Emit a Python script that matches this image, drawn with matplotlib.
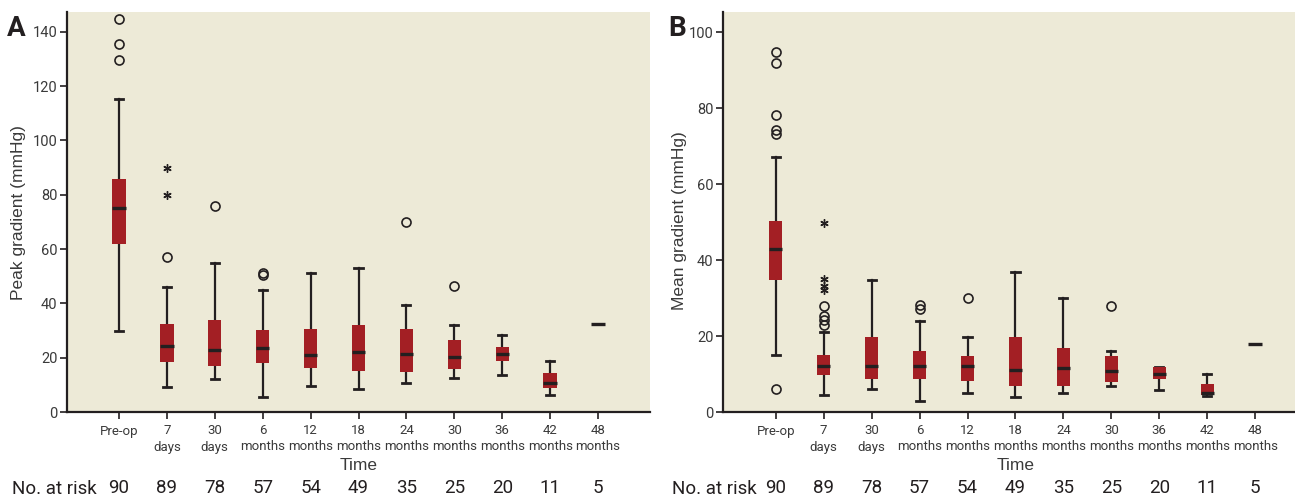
import numpy as np
import matplotlib
matplotlib.use("Agg")
import matplotlib.pyplot as plt

# categories along the time axis
times = ["Pre-op", "7\ndays", "30\ndays", "6\nmonths", "12\nmonths", "18\nmonths",
         "24\nmonths", "30\nmonths", "36\nmonths", "42\nmonths", "48\nmonths"]
at_risk = [90, 89, 78, 57, 54, 49, 35, 25, 20, 11, 5]

# Panel A: peak gradient (mmHg)
peak_whislo = [29.9, 9.3, 12.3, 5.6, 9.7, 8.6, 10.8, 12.6, 13.6, 6.4, 32.5]
peak_q1 = [62.0, 18.5, 16.9, 18.2, 16.3, 15.2, 14.8, 15.7, 18.9, 8.7, 32.5]
peak_med = [75.0, 24.3, 22.7, 23.7, 21.1, 22.0, 21.2, 20.4, 21.2, 10.8, 32.5]
peak_q3 = [85.8, 32.4, 33.9, 30.2, 30.6, 32.0, 30.6, 26.5, 23.8, 14.3, 32.5]
peak_whishi = [115.3, 46.0, 55.0, 45.0, 51.2, 53.2, 39.5, 32.0, 28.4, 18.9, 32.5]
peak_circles = [[144.6, 135.6, 129.6], [57.2], [75.8], [51.3, 50.3], [], [],
                [70.0], [46.4], [], [], []]
peak_stars = [[], [90.0, 79.9], [], [], [], [], [], [], [], [], []]

# Panel B: mean gradient (mmHg)
mean_whislo = [15.0, 4.4, 6.0, 2.8, 4.9, 3.9, 4.9, 6.8, 5.7, 4.1, 17.9]
mean_q1 = [34.8, 9.7, 8.7, 8.7, 8.2, 6.8, 6.8, 7.9, 8.7, 4.5, 17.9]
mean_med = [43.0, 12.0, 12.0, 12.0, 12.0, 11.1, 11.5, 10.8, 10.0, 5.0, 17.9]
mean_q3 = [50.2, 15.1, 19.8, 16.0, 14.7, 19.8, 16.9, 14.8, 11.9, 7.5, 17.9]
mean_whishi = [67.1, 21.1, 34.7, 23.9, 19.7, 36.8, 29.9, 16.0, 11.9, 9.9, 17.9]
mean_circles = [[94.9, 92.0, 78.1, 74.3, 73.2, 6.1], [28.0, 25.4, 24.1, 23.0], [],
                [28.1, 27.0], [30.0], [], [], [28.0], [], [], []]
mean_stars = [[], [49.8, 35.1, 33.3, 32.0], [], [], [], [], [], [], [], [], []]

red = "#A31F24"
bg = "#EDEAD7"
ink = "#231F20"
grey = "#3A3A3A"
narrow = ["Roboto", "DejaVu Sans"]
plain = ["Liberation Sans", "DejaVu Sans"]

fig = plt.figure(figsize=(12.95, 4.99), dpi=100)
axA = fig.add_axes([67 / 1295, 87 / 499, 583 / 1295, 400 / 499])
axB = fig.add_axes([723 / 1295, 87 / 499, 572 / 1295, 400 / 499])


def draw(ax, lo, q1, med, q3, hi, circles, stars, ylim, yticks, xlim,
         ylabel, letter, label_x, label_y, letter_x, risk_x):
    stats = []
    for i in range(len(times)):
        stats.append(dict(whislo=lo[i], q1=q1[i], med=med[i], q3=q3[i],
                          whishi=hi[i], fliers=circles[i]))
    pos = np.arange(len(times))
    ax.bxp(stats, positions=pos, widths=0.28, capwidths=0.17,
           patch_artist=True, showfliers=True,
           boxprops=dict(facecolor=red, edgecolor="none", zorder=3),
           medianprops=dict(color=ink, linewidth=2.4, zorder=4, solid_capstyle="butt"),
           whiskerprops=dict(color=ink, linewidth=1.6, zorder=2),
           capprops=dict(color=ink, linewidth=2.0, zorder=2),
           flierprops=dict(marker="o", markersize=6.5, markerfacecolor="none",
                           markeredgecolor=ink, markeredgewidth=1.2))
    for i, s in enumerate(stars):
        if s:
            ax.plot([i] * len(s), s, linestyle="none", marker=(6, 2, 0),
                    markersize=6, markeredgewidth=1.0, color=ink, zorder=5)

    ax.set_facecolor(bg)
    ax.set_xlim(*xlim)
    ax.set_ylim(*ylim)
    ax.set_yticks(yticks)
    ax.set_xticks(pos)
    ax.set_xticklabels(times, family=narrow, fontsize=9.5, color=grey,
                       linespacing=1.3)
    for t in ax.get_yticklabels():
        t.set_family(narrow)
        t.set_fontsize(10.5)
        t.set_color(grey)
    for side in ["top", "right"]:
        ax.spines[side].set_visible(False)
    for side in ["left", "bottom"]:
        ax.spines[side].set_linewidth(1.6)
        ax.spines[side].set_color(ink)
    ax.tick_params(axis="both", direction="out", length=5, width=1.2,
                   color=ink, pad=2)
    ax.tick_params(axis="x", pad=4)

    tr = ax.get_xaxis_transform()
    ax.text(5, -0.135, "Time", transform=tr, ha="center", va="center",
            family=plain, fontsize=12.5, color=grey)
    for i, n in enumerate(at_risk):
        ax.text(i, -0.19, str(n), transform=tr, ha="center", va="center",
                family=narrow, fontsize=13.5, color=ink)
    fig.text(risk_x, 1 - 489 / 499, "No. at risk", ha="left", va="center",
             family=narrow, fontsize=13.5, color=ink)
    fig.text(label_x, 1 - label_y / 499, ylabel, rotation=90, ha="center",
             va="center", family=plain, fontsize=12.5, color=grey)
    fig.text(letter_x, 1 - 29 / 499, letter, ha="left", va="center",
             family=narrow, fontsize=20, fontweight="bold", color=ink)


draw(axA, peak_whislo, peak_q1, peak_med, peak_q3, peak_whishi,
     peak_circles, peak_stars, (0, 147.3), range(0, 141, 20), (-1.083, 11.083),
     "Peak gradient (mmHg)", "A", 19 / 1295, 213, 7 / 1295, 12 / 1295)
draw(axB, mean_whislo, mean_q1, mean_med, mean_q3, mean_whishi,
     mean_circles, mean_stars, (0, 105.3), range(0, 101, 20), (-1.1, 10.83),
     "Mean gradient (mmHg)", "B", 680 / 1295, 221, 668 / 1295, 672 / 1295)

fig.savefig("out.png", dpi=100)
